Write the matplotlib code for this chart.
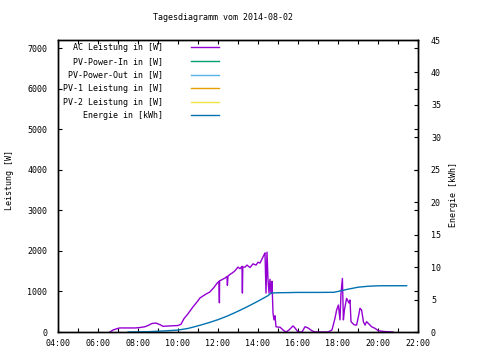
import numpy as np
import matplotlib
matplotlib.use('Agg')
import matplotlib.pyplot as plt
from matplotlib.ticker import MultipleLocator, FuncFormatter

# AC power, time in hours of the day, watts
ac_t = [6.6, 6.75, 7.0, 7.1, 7.85, 8.1, 8.35, 8.5, 8.7, 8.9, 9.1, 9.25, 9.6, 10.0,
        10.15, 10.3, 10.5, 10.75, 10.95, 11.1, 11.35, 11.6, 11.8, 11.95, 12.05, 12.07,
        12.08, 12.2, 12.35, 12.45, 12.47, 12.5, 12.6, 12.7, 12.85, 13.0, 13.1, 13.2,
        13.22, 13.24, 13.35, 13.45, 13.6, 13.75, 13.9, 14.0, 14.1, 14.2, 14.3, 14.35,
        14.4, 14.45, 14.5, 14.55, 14.6, 14.65, 14.7, 14.75, 14.8, 14.85, 14.9, 15.0,
        15.1, 15.25, 15.4, 15.55, 15.75, 15.85, 16.0, 16.2, 16.35, 16.5, 16.7, 16.85,
        17.5, 17.7, 17.85, 17.93, 18.02, 18.1, 18.15, 18.22, 18.27, 18.32, 18.43,
        18.55, 18.6, 18.65, 18.8, 18.93, 19.02, 19.1, 19.18, 19.27, 19.35, 19.43,
        19.52, 19.68, 19.85, 20.02, 20.35, 20.75]
ac_w = [0, 50, 90, 100, 100, 110, 130, 160, 210, 220, 180, 140, 150, 160,
        190, 330, 450, 620, 740, 840, 920, 990, 1100, 1200, 1250, 720,
        1260, 1290, 1330, 1370, 1150, 1380, 1420, 1450, 1510, 1600, 1560, 1620,
        960, 1600, 1600, 1650, 1590, 1680, 1650, 1720, 1700, 1800, 1900, 1950,
        960, 1970, 1300, 960, 1300, 950, 1250, 470, 300, 400, 130, 120,
        120, 50, 0, 50, 150, 100, 0, 0, 130, 100, 30, 0,
        0, 50, 340, 540, 665, 300, 960, 1320, 300, 540, 830,
        715, 790, 255, 180, 170, 380, 585, 540, 255, 170, 255,
        210, 130, 90, 30, 10, 0]

# daily energy, kWh
en_t = [7.5, 8.5, 9.0, 9.5, 10.0, 10.5, 11.0, 11.5, 12.0, 12.5, 13.0, 13.5, 14.0,
        14.5, 14.65, 15.0, 15.5, 16.0, 17.0, 17.8, 18.0, 18.5, 19.0, 19.5, 20.0,
        20.5, 21.43]
en_kwh = [0, 0.05, 0.12, 0.2, 0.3, 0.55, 0.95, 1.4, 1.9, 2.5, 3.2, 3.95, 4.75,
          5.6, 6.0, 6.05, 6.07, 6.1, 6.1, 6.12, 6.25, 6.6, 6.9, 7.05, 7.12,
          7.13, 7.13]

labels = ["AC Leistung in [W]", "PV-Power-In in [W]", "PV-Power-Out in [W]",
          "PV-1 Leistung in [W]", "PV-2 Leistung in [W]", "Energie in [kWh]"]
colors = ["#9400d3", "#009e73", "#56b4e9", "#e69f00", "#f0e442", "#0072b2"]

plt.rcParams['font.family'] = 'DejaVu Sans Mono'
plt.rcParams['font.size'] = 6

fig = plt.figure(figsize=(4.8, 3.6), dpi=100)
ax = fig.add_axes([58/480, 28/360, 360/480, 292/360])
ax2 = ax.twinx()
ax2.set_position([58/480, 28/360, 360/480, 292/360])

w = max(len(s) for s in labels)
h1, = ax.plot(ac_t, ac_w, color=colors[0], lw=1.0, label=labels[0].rjust(w))
others = [ax.plot([], [], color=c, lw=1.0, label=l.rjust(w))[0]
          for c, l in zip(colors[1:5], labels[1:5])]
h6, = ax2.plot(en_t, en_kwh, color=colors[5], lw=1.0, label=labels[5].rjust(w))

ax.set_xlim(4, 22)
ax.set_ylim(0, 7200)
ax2.set_ylim(0, 45)

ax.xaxis.set_major_locator(MultipleLocator(2))
ax.xaxis.set_minor_locator(MultipleLocator(1))
ax.xaxis.set_major_formatter(FuncFormatter(lambda v, p: "%02d:00" % int(round(v))))
ax.yaxis.set_major_locator(MultipleLocator(1000))
ax2.yaxis.set_major_locator(MultipleLocator(5))

ax.tick_params(axis='both', which='both', direction='in', length=3, width=0.8,
               top=True, right=True, labelsize=6)
ax.tick_params(axis='x', pad=5)
ax.tick_params(axis='y', pad=7.8)
ax2.tick_params(axis='y', direction='in', length=3, width=0.8, pad=9.3, labelsize=6)

for a in (ax, ax2):
    for s in a.spines.values():
        s.set_linewidth(1.0)

ax.set_ylabel("Leistung [W]", fontsize=6)
ax.yaxis.set_label_coords(-44/360, 0.52)
ax2.set_ylabel("Energie [kWh]", fontsize=6)
ax2.yaxis.set_label_coords(1 + 31/360, 0.47)

fig.text(223/480, 1 - 18/360, "Tagesdiagramm vom 2014-08-02", ha='center',
         va='center', fontsize=6)

handles = [h1] + others + [h6]
ax2.legend(handles=handles, loc='upper left', bbox_to_anchor=(0.005, 1.0),
           frameon=False, markerfirst=False, fontsize=6, handlelength=3.4,
           handletextpad=3.3, labelspacing=0.55, borderaxespad=0.2, borderpad=0.2)

fig.savefig("out.png", dpi=100)
